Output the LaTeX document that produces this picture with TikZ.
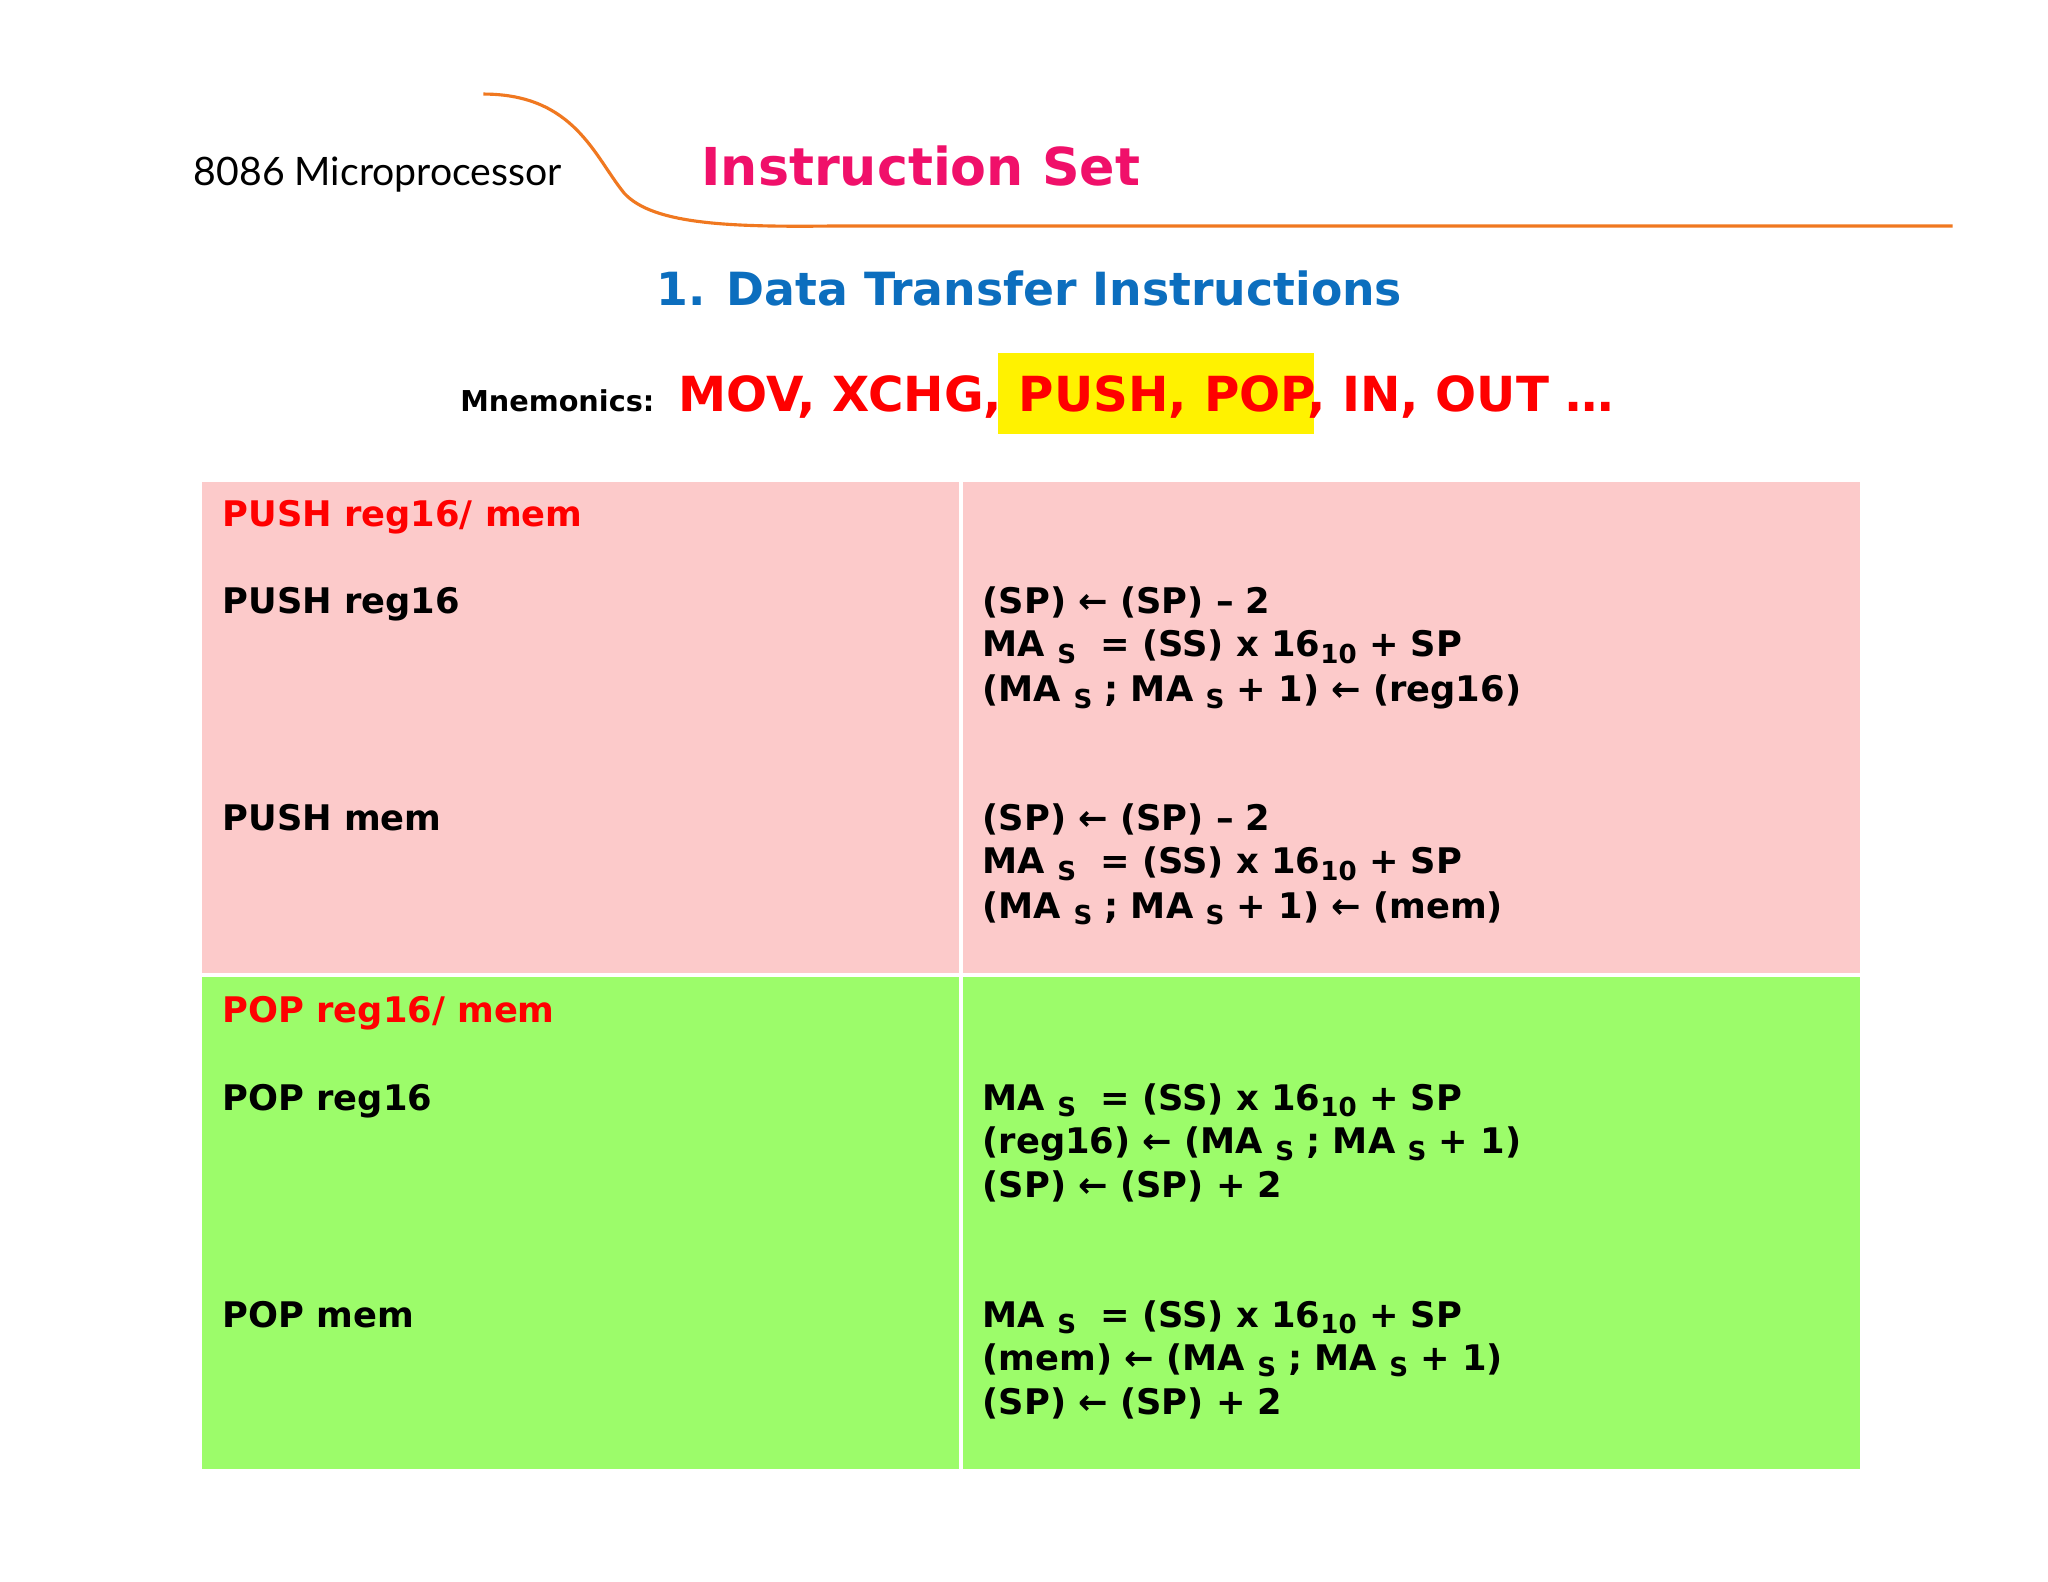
\documentclass[tikz,border=0pt]{standalone}
\usepackage{fontspec}
\setmainfont{DejaVu Sans}
\newfontfamily\hdr{Lato}
\definecolor{pinkbg}{HTML}{FCCACA}
\definecolor{greenbg}{HTML}{9CFC6A}
\definecolor{orng}{HTML}{F07820}
\definecolor{magen}{HTML}{F0106A}
\definecolor{blu}{HTML}{0C6EBE}
\newcommand{\sbs}[1]{\raisebox{-0.35ex}{\fontsize{10}{10}\selectfont #1}}
\tikzset{t/.style={anchor=base west,inner sep=0pt,font=\fontsize{13.5}{15}\selectfont\bfseries},
 rt/.style={t,text=red}}
\begin{document}
\begin{tikzpicture}[x=0.5pt,y=-0.5pt]
\fill[white] (0,0) rectangle (1568,1211);
\draw[orng,line width=1.2pt] (370,72) .. controls (440,72) and (455,120) .. (478,148) .. controls (500,172) and (560,174) .. (640,173) -- (1495,173);
\node[anchor=base west,inner sep=0pt,font=\hdr\fontsize{15}{16}\selectfont] (h1) at (148,142) {8086 Microprocessor};
\node[anchor=base,inner sep=0pt,text=magen,font=\fontsize{20}{22}\selectfont\bfseries] (h2) at (705,142) {Instruction Set};
\node[anchor=base,inner sep=0pt,text=blu,font=\fontsize{17.5}{20}\selectfont\bfseries] (h3) at (788,234) {1. Data Transfer Instructions};
\fill[yellow] (764,270) rectangle (1006,332);
\node[anchor=base west,inner sep=0pt,font=\fontsize{11}{12}\selectfont\bfseries] (mn) at (352,315) {Mnemonics:};
\node[anchor=base west,inner sep=0pt,text=red,font=\fontsize{18.5}{20}\selectfont\bfseries] (mr) at (519,315) {MOV, XCHG, PUSH, POP, IN, OUT …};
\fill[pinkbg] (155,369) rectangle (1424,745);
\fill[greenbg] (155,748) rectangle (1424,1125);
\draw[white,line width=1.5pt] (736,369) -- (736,1125);
\node[rt] (p0) at (170,403) {PUSH reg16/ mem};
\node[t] (p1) at (170,470) {PUSH reg16};
\node[t] (p1a) at (752,470) {(SP) ← (SP) – 2};
\node[t] (p1b) at (752,503) {MA \sbs{S}\ \ = (SS) x 16\sbs{10} + SP};
\node[t] (p1c) at (752,537) {(MA \sbs{S} ; MA \sbs{S} + 1) ← (reg16)};
\node[t] (p2) at (170,636) {PUSH mem};
\node[t] (p2a) at (752,636) {(SP) ← (SP) – 2};
\node[t] (p2b) at (752,669) {MA \sbs{S}\ \ = (SS) x 16\sbs{10} + SP};
\node[t] (p2c) at (752,703) {(MA \sbs{S} ; MA \sbs{S} + 1) ← (mem)};
\node[rt] (q0) at (170,783) {POP reg16/ mem};
\node[t] (q1) at (170,850) {POP reg16};
\node[t] (q1a) at (752,850) {MA \sbs{S}\ \ = (SS) x 16\sbs{10} + SP};
\node[t] (q1b) at (752,883) {(reg16) ← (MA \sbs{S} ; MA \sbs{S} + 1)};
\node[t] (q1c) at (752,917) {(SP) ← (SP) + 2};
\node[t] (q2) at (170,1016) {POP mem};
\node[t] (q2a) at (752,1016) {MA \sbs{S}\ \ = (SS) x 16\sbs{10} + SP};
\node[t] (q2b) at (752,1049) {(mem) ← (MA \sbs{S} ; MA \sbs{S} + 1)};
\node[t] (q2c) at (752,1083) {(SP) ← (SP) + 2};
\end{tikzpicture}
\end{document}
